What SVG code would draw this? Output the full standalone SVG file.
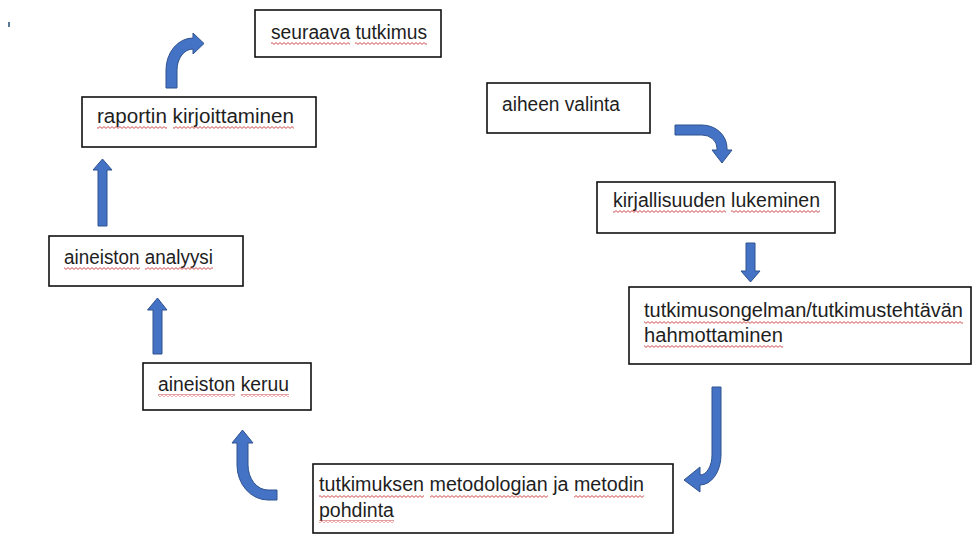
<svg xmlns="http://www.w3.org/2000/svg" width="973" height="536" viewBox="0 0 973 536">
<defs>
<pattern id="wavy" patternUnits="userSpaceOnUse" x="0" y="0" width="4" height="3">
<path d="M0,0.6 L2,2.4 L4,0.6" fill="none" stroke="#c83c3c" stroke-width="0.9"/>
</pattern>
</defs>
<style>
.box{fill:#ffffff;stroke:#111111;stroke-width:1.6}
.lbl{font-family:"Liberation Sans",Arial,sans-serif;font-size:20px;fill:#1e1e1e}
.arrow{fill:#4472c4;stroke:#2f528f;stroke-width:1;stroke-linejoin:miter}
.sq{fill:url(#wavy)}
</style>
<rect width="973" height="536" fill="#ffffff"/>
<rect x="8" y="22" width="2" height="5" fill="#5a7a9a"/>

<g id="connectors">
<path class="arrow" d="M166,88 L166,70 A27,32 0 0 1 193,38 L193,33 L204,43.5 L193,54 L193,49 A16,21 0 0 0 177,70 L177,88 Z"/>
<path class="arrow" d="M675,125 L702,125 A25,23 0 0 1 727,148 L727,150 L732,150 L722,163 L712,150 L717,150 L717,148 A15,13 0 0 0 702,135 L675,135 Z"/>
<path class="arrow" d="M746,243 L755,243 L755,271 L760,271 L750.5,282 L741,271 L746,271 Z"/>
<path class="arrow" d="M712,387 L721,387 L721,455 A21,30 0 0 1 700,485 L700,492 L684,480 L700,467 L700,475 A12,20 0 0 0 712,455 Z"/>
<path class="arrow" d="M277,500 L268,500 A31,35 0 0 1 237,465 L237,443 L232,443 L242.5,430 L253,443 L248,443 L248,465 A20,25 0 0 0 268,490 L277,490 Z"/>
<path class="arrow" d="M153,354 L153,310 L147.5,310 L157.5,298 L167,310 L162,310 L162,354 Z"/>
<path class="arrow" d="M98,226 L98,170 L93,170 L102.5,159 L112,170 L107,170 L107,226 Z"/>
</g>

<g id="n-seuraava">
<rect class="box" x="255" y="10" width="186" height="47"/>
<text class="lbl" x="271" y="39" textLength="156" lengthAdjust="spacingAndGlyphs">seuraava tutkimus</text>
<rect class="sq" x="271" y="42" width="79" height="3"/>
<rect class="sq" x="355" y="42" width="72" height="3"/>
</g>

<g id="n-raportin">
<rect class="box" x="82" y="97" width="234" height="50"/>
<text class="lbl" x="97" y="123" textLength="197" lengthAdjust="spacingAndGlyphs">raportin kirjoittaminen</text>
<rect class="sq" x="97" y="126" width="70" height="3"/>
<rect class="sq" x="173" y="126" width="121" height="3"/>
</g>

<g id="n-aiheen">
<rect class="box" x="487" y="83" width="163" height="50"/>
<text class="lbl" x="502" y="111" textLength="118" lengthAdjust="spacingAndGlyphs">aiheen valinta</text>
</g>

<g id="n-kirjallisuuden">
<rect class="box" x="597" y="182" width="238" height="51"/>
<text class="lbl" x="613" y="207" textLength="207" lengthAdjust="spacingAndGlyphs">kirjallisuuden lukeminen</text>
<rect class="sq" x="613" y="210" width="113" height="3"/>
<rect class="sq" x="731" y="210" width="89" height="3"/>
</g>

<g id="n-tutkimusongelman">
<rect class="box" x="629" y="287" width="342" height="77"/>
<text class="lbl" x="644" y="317" textLength="319" lengthAdjust="spacingAndGlyphs">tutkimusongelman/tutkimustehtävän</text>
<text class="lbl" x="644" y="342" textLength="139" lengthAdjust="spacingAndGlyphs">hahmottaminen</text>
<rect class="sq" x="644" y="321" width="319" height="3"/>
<rect class="sq" x="644" y="345" width="139" height="3"/>
</g>

<g id="n-metodologia">
<rect class="box" x="313" y="464" width="360" height="69"/>
<text class="lbl" x="319" y="491" textLength="325" lengthAdjust="spacingAndGlyphs">tutkimuksen metodologian ja metodin</text>
<text class="lbl" x="319" y="517" textLength="75" lengthAdjust="spacingAndGlyphs">pohdinta</text>
<rect class="sq" x="319" y="495" width="105" height="3"/>
<rect class="sq" x="430" y="495" width="118" height="3"/>
<rect class="sq" x="574" y="495" width="70" height="3"/>
<rect class="sq" x="319" y="520" width="75" height="3"/>
</g>

<g id="n-keruu">
<rect class="box" x="143" y="363" width="168" height="47"/>
<text class="lbl" x="158" y="391" textLength="131" lengthAdjust="spacingAndGlyphs">aineiston keruu</text>
<rect class="sq" x="158" y="394" width="77" height="3"/>
<rect class="sq" x="241" y="394" width="48" height="3"/>
</g>

<g id="n-analyysi">
<rect class="box" x="49" y="236" width="194" height="50"/>
<text class="lbl" x="64" y="264" textLength="149" lengthAdjust="spacingAndGlyphs">aineiston analyysi</text>
<rect class="sq" x="64" y="267" width="76" height="3"/>
<rect class="sq" x="145" y="267" width="68" height="3"/>
</g>
</svg>
